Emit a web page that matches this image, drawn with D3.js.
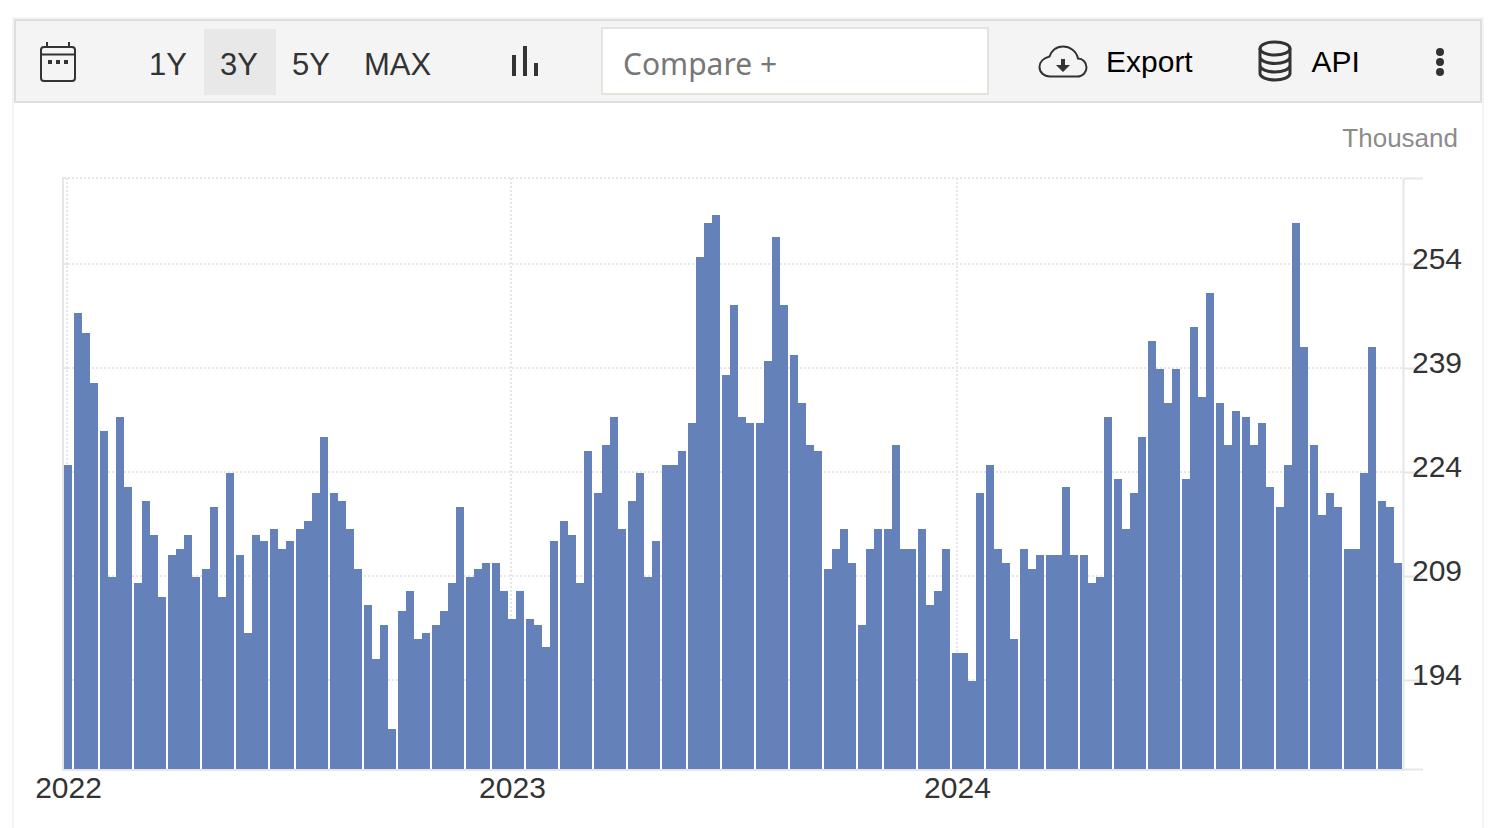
<!DOCTYPE html>
<html>
<head>
<meta charset="utf-8">
<script src="https://cdn.jsdelivr.net/npm/d3@7"></script>
<style>
html,body{margin:0;padding:0;background:#fff;overflow:hidden}
svg{display:block}
text{font-family:"Liberation Sans",Arial,sans-serif}
</style>
</head>
<body>
<svg id="c" width="1496" height="828"></svg>
<script>
const claims = [
225,
247,244,237,
230,209,232,222,
208,220,215,206,
212,213,215,209,
210,219,206,224,
212,201,215,214,
216,213,214,
216,217,221,229,
221,220,216,210,
205,197,202,187,
204,207,200,201,
202,204,208,219,
209,210,211,
211,207,203,207,
203,202,199,214,
217,215,208,227,
221,228,232,216,
220,224,209,214,
225,225,227,
231,255,260,261,
238,248,232,231,
231,240,258,248,
241,234,228,227,
210,213,216,211,
202,213,216,
216,228,213,213,
216,205,207,213,
198,198,194,221,
225,213,211,200,
213,210,212,
212,212,222,212,
212,208,209,232,
223,216,221,229,
243,239,234,239,
223,245,235,250,
234,228,233,
232,228,231,222,
219,225,260,242,
228,218,221,219,
213,213,224,242,
220,219,211
];
const yTicks = [194,209,224,239,254];
const yearTicks = [2022,2023,2024];
const rangeButtons = ["1Y","3Y","5Y","MAX"];
const unitLabel = "Thousand";
const barColor = "#6482b9", gridColor = "#e6e6e6", ink = "#333333";

const svg = d3.select("#c");
const plot = {left:64, right:1402, top:178, bottom:769};

const y = d3.scaleLinear().domain([181.16,266.40]).range([plot.bottom,plot.top]);
const yBar = d3.scaleLinear().domain([181.16,266.40]).range([768.83,177.26]);
const x = d3.scaleLinear().domain([0,claims.length-1]).range([64.973,1394.405]);
const t = d3.scaleUtc().domain([new Date(Date.UTC(2022,0,1)),new Date(Date.UTC(2025,0,1))]).range([66.5,1402.7]);
const snapX = i => 2*Math.round(x(i)/2);
const snapY = v => 2*Math.ceil((yBar(v)-1)/2)+1;
const snapT = yr => 2*Math.round((t(new Date(Date.UTC(yr,0,1)))-1)/2)+1;

/* frame */
const frame = svg.append("g");
frame.append("path").attr("d","M13,828V18H1483V828").attr("fill","none").attr("stroke","#f4f4f4").attr("stroke-width",2);
frame.append("rect").attr("x",15).attr("y",20).attr("width",1466).attr("height",82)
  .attr("fill","#f4f4f4").attr("stroke","#dedede").attr("stroke-width",2);

/* calendar icon */
const cal = svg.append("g").attr("fill","none").attr("stroke",ink).attr("stroke-width",2);
cal.append("rect").attr("x",41).attr("y",47).attr("width",34).attr("height",34).attr("rx",3);
cal.append("path").attr("d","M41,54.5H75M47,42V47M69,42V47");
svg.append("g").attr("fill",ink).selectAll("rect").data([48,56,64]).join("rect")
  .attr("x",d=>d).attr("y",60).attr("width",4).attr("height",4);

/* range buttons */
svg.append("rect").attr("x",204).attr("y",29).attr("width",72).attr("height",66).attr("fill","#e8e8e8");
const btnX = {"1Y":168,"3Y":239,"5Y":311,"MAX":397.5};
svg.append("g").selectAll("text").data(rangeButtons).join("text")
  .attr("x",d=>btnX[d]).attr("y",75).attr("text-anchor","middle").attr("font-size",31).attr("fill",ink).text(d=>d);

/* bar-type icon */
svg.append("path").attr("fill",ink).attr("d","M512,55h4v21h-4zM523,46h4v30h-4zM534,63h4v13h-4z");

/* compare box */
svg.append("rect").attr("x",602).attr("y",28).attr("width",386).attr("height",66)
  .attr("fill","#fff").attr("stroke","#e4e4dc").attr("stroke-width",2);
svg.append("text").attr("x",623).attr("y",74.5).attr("font-size",30).attr("fill","#777")
  .style("font-family",'"Noto Sans","Open Sans",sans-serif').text("Compare +");

/* export */
svg.append("path").attr("fill","none").attr("stroke",ink).attr("stroke-width",2)
  .attr("d","M1050,76.5H1077C1083,76.5 1086.5,72 1086.5,67.5C1086.5,62 1082.5,58.5 1078,58.5C1076.5,51 1070,46.5 1063,46.5C1056,46.5 1051,51 1049.5,56.5C1043.5,58 1039.5,62 1039.5,67C1039.5,72.5 1044,76.5 1050,76.5Z");
svg.append("path").attr("fill",ink).attr("d","M1061,59h4v6h5l-7,7l-7,-7h5z");
svg.append("text").attr("x",1106).attr("y",72).attr("font-size",30).attr("fill","#000").text("Export");

/* api */
const db = svg.append("g").attr("fill","none").attr("stroke",ink).attr("stroke-width",3);
db.append("ellipse").attr("cx",1275).attr("cy",48.5).attr("rx",15).attr("ry",6.5);
db.append("path").attr("d","M1260,48.5V73.5C1260,77 1267,80 1275,80C1283,80 1290,77 1290,73.5V48.5M1260,57C1260,60.5 1267,63.5 1275,63.5C1283,63.5 1290,60.5 1290,57M1260,65.5C1260,69 1267,72 1275,72C1283,72 1290,69 1290,65.5");
svg.append("text").attr("x",1311.5).attr("y",72).attr("font-size",30).attr("fill","#000").text("API");

/* menu dots */
svg.append("g").attr("fill",ink).selectAll("circle").data([52,62,72]).join("circle")
  .attr("cx",1440).attr("cy",d=>d).attr("r",4);

/* unit */
svg.append("text").attr("x",1458).attr("y",147).attr("text-anchor","end").attr("font-size",26)
  .attr("fill","#8c8c8c").text(unitLabel);

/* grid */
const grid = svg.append("g").attr("stroke",gridColor).attr("stroke-width",2).attr("fill","none");
grid.append("g").selectAll("line").data([...yTicks,y.domain()[1]]).join("line")
  .attr("x1",plot.left).attr("x2",plot.right).attr("y1",d=>y(d)).attr("y2",d=>y(d))
  .attr("stroke-dasharray","2 2");
grid.append("g").selectAll("line").data(yTicks).join("line")
  .attr("x1",plot.left).attr("x2",70).attr("y1",d=>y(d)).attr("y2",d=>y(d));
grid.append("g").selectAll("line").data(yearTicks).join("line")
  .attr("x1",d=>snapT(d)).attr("x2",d=>snapT(d))
  .attr("y1",plot.top).attr("y2",plot.bottom).attr("stroke-dasharray","2 2");

/* bars */
svg.append("g").attr("fill",barColor).selectAll("rect").data(claims).join("rect")
  .attr("x",(d,i)=>snapX(i)).attr("width",8)
  .attr("y",d=>snapY(d)).attr("height",d=>plot.bottom-snapY(d));

/* axes */
const yAxis = d3.axisRight(y).tickValues([...yTicks,y.domain()[0],y.domain()[1]]).tickSize(20)
  .tickSizeOuter(0).tickFormat(d=>yTicks.includes(d)?d:"");
const gy = svg.append("g").attr("transform",`translate(${plot.right+1},0)`).call(yAxis);
gy.selectAll(".domain").attr("stroke",gridColor).attr("stroke-width",2);
gy.selectAll(".tick line").attr("stroke",gridColor).attr("stroke-width",2);
gy.selectAll("text").attr("x",9).attr("dy",0).attr("y",4.5).attr("font-size",30).attr("fill",ink)
  .style("font-family",'"Liberation Sans",Arial,sans-serif');

const xAxis = d3.axisBottom(t).tickValues(yearTicks.map(d=>new Date(Date.UTC(d,0,1))))
  .tickSize(0).tickSizeOuter(0).tickFormat(d3.utcFormat("%Y"));
const gx = svg.append("g").attr("transform",`translate(0,${plot.bottom+1})`).call(xAxis);
gx.selectAll(".domain").attr("stroke",gridColor).attr("stroke-width",2).attr("d",`M62,0H${plot.right+2}`);
gx.selectAll("text").attr("font-size",30).attr("fill",ink).attr("y",0).attr("dy",28)
  .attr("dx",(d,i)=>i===0?1.5:0.5).style("font-family",'"Liberation Sans",Arial,sans-serif');

svg.append("line").attr("x1",63).attr("x2",63).attr("y1",plot.top-1).attr("y2",plot.bottom+2)
  .attr("stroke",gridColor).attr("stroke-width",2);
</script>
</body>
</html>
